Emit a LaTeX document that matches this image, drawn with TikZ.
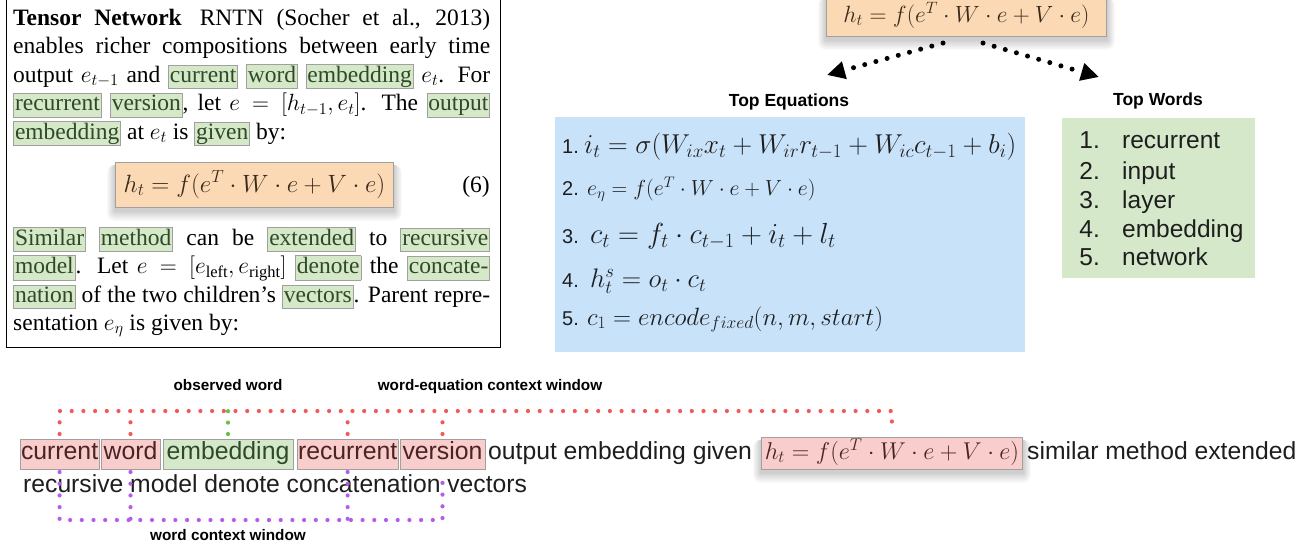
\RequirePackage{fix-cm}
\documentclass[tikz,border=0pt]{standalone}
\usepackage{amsmath}
\usepackage[no-math]{fontspec}
\setmainfont{Liberation Serif}
\newfontfamily\hel{Liberation Sans}
\usetikzlibrary{arrows.meta}
\definecolor{hlgreen}{HTML}{D5E8C8}
\definecolor{hlborder}{HTML}{A0A0A0}
\definecolor{hltxt}{HTML}{2E4A2A}
\definecolor{eqorange}{HTML}{FBD9B4}
\definecolor{orangetxt}{HTML}{3A2A1A}
\definecolor{eqpink}{HTML}{F8CDCC}
\definecolor{pinktxt}{HTML}{4A2424}
\definecolor{eqblue}{HTML}{C8E2FA}
\definecolor{wordgreen}{HTML}{D5E8CA}
\definecolor{dotred}{HTML}{F05A5A}
\definecolor{dotpurple}{HTML}{B35EE6}
\definecolor{dotgreen}{HTML}{6CBF45}
\definecolor{darktxt}{HTML}{1E1E1E}
\newcommand\hlg[1]{{\setlength\fboxsep{1pt}\setlength\fboxrule{0.8pt}\fcolorbox{hlborder}{hlgreen}{\textcolor{hltxt}{\rule[-5pt]{0pt}{20.5pt}#1}}}}
\pgfdeclarelayer{bg}
\pgfsetlayers{bg,main}
\begin{document}
\begin{tikzpicture}[x=1pt,y=-1pt,
  txt/.style={inner sep=0pt, anchor=base west, font=\fontsize{23.5}{28.5}\selectfont},
  eqnode/.style={draw=hlborder, line width=0.9pt, inner ysep=0pt, anchor=base west},
  wbox/.style={draw=hlborder, line width=0.9pt, inner xsep=1pt, inner ysep=0pt, text height=20pt, text depth=10pt, anchor=base west, outer sep=0pt, font=\hel\fontsize{24.8}{29}\selectfont},
  pinkw/.style={wbox, fill=eqpink, text=pinktxt},
  greenw/.style={wbox, fill=wordgreen, text=hltxt},
  plainw/.style={inner sep=0pt, anchor=base west, text=darktxt, font=\hel\fontsize{24.7}{29}\selectfont},
  lbl/.style={inner sep=0pt, anchor=base, font=\hel\bfseries\fontsize{15.3}{18}\selectfont},
  head/.style={inner sep=0pt, anchor=base, font=\hel\bfseries\fontsize{17.5}{20}\selectfont},
  num/.style={inner sep=0pt, anchor=base west, text=darktxt, font=\hel\fontsize{20}{24}\selectfont},
  eqline/.style={inner sep=0pt, anchor=base west, text=darktxt},
  wnum/.style={inner sep=0pt, anchor=base east, text=darktxt, font=\hel\fontsize{24.5}{29}\selectfont},
  wword/.style={inner sep=0pt, anchor=base west, text=darktxt, font=\hel\fontsize{24.5}{29}\selectfont},
  reddots/.style={dotred, line width=4.2pt, line cap=round, dash pattern=on 0pt off 11.7pt},
  purpledots/.style={dotpurple, line width=4.2pt, line cap=round, dash pattern=on 0pt off 11.7pt},
  greendots/.style={dotgreen, line width=4.2pt, line cap=round, dash pattern=on 0pt off 11.4pt},
  blackdots/.style={black, line width=5pt, line cap=round, dash pattern=on 0pt off 11.6pt, -{Triangle[length=18pt,width=17pt]}}]
\useasboundingbox (0,0) rectangle (1312,550);

% ---------- left paper box ----------
\node[draw=black, line width=1.4pt, inner sep=0pt, minimum width=494pt, minimum height=352pt, anchor=north west] (paper) at (6,-5) {};
\node[txt] (l1) at (13,25) {\makebox[477pt][s]{\textbf{Tensor Network}\hspace{18pt}RNTN (Socher et al., 2013)}};
\node[txt] (l2) at (13,53.5) {\makebox[477pt][s]{enables richer compositions between early time}};
\node[txt] (l3) at (13,82) {\makebox[477pt][s]{output $e_{t-1}$ and \hlg{current} \hlg{word} \hlg{embedding} $e_t$. For}};
\node[txt] (l4) at (13,110.5) {\makebox[477pt][s]{\hlg{recurrent} \hlg{version}, let $e = [h_{t-1}, e_t]$. The \hlg{output}}};
\node[txt] (l5) at (13,139) {\hlg{embedding} at $e_t$ is \hlg{given} by:};
\node[eqnode, fill=eqorange, text=orangetxt, minimum width=278pt, text height=30pt, text depth=15pt, font=\fontsize{25}{30}\selectfont] (leq) at (115,192) {$h_t = f(e^T \cdot W \cdot e + V \cdot e)$\hspace{8pt}};
\node[txt, anchor=base east] (eqno) at (490,192) {(6)};
\node[txt] (l6) at (13,245) {\makebox[477pt][s]{\hlg{Similar} \hlg{method} can be \hlg{extended} to \hlg{recursive}}};
\node[txt] (l7) at (13,273.5) {\makebox[477pt][s]{\hlg{model}. Let $e = [e_{\text{left}}, e_{\text{right}}]$ \hlg{denote} the \hlg{concate-}}};
\node[txt] (l8) at (13,302) {\makebox[477pt][s]{\hlg{nation} of the two children's \hlg{vectors}. Parent repre-}};
\node[txt] (l9) at (13,330) {sentation $e_\eta$ is given by:};

% ---------- top equation and arrows ----------
\node[eqnode, fill=eqorange, text=orangetxt, inner xsep=17pt, text height=27pt, text depth=14pt, font=\fontsize{23.5}{28}\selectfont] (topeq) at (826,22) {$h_t = f(e^T \cdot W \cdot e + V \cdot e)$};
\coordinate (a1s) at (943,43);
\coordinate (a1e) at (827,75);
\coordinate (a2s) at (983,43);
\coordinate (a2e) at (1099,77);
\draw[blackdots] (a1s) -- (a1e);
\draw[blackdots] (a2s) -- (a2e);

% ---------- top equations ----------
\node[head] (theq) at (789,106) {Top Equations};
\node[fill=eqblue, inner sep=0pt, minimum width=470pt, minimum height=235pt, anchor=north west] (eqs) at (555,117) {};
\node[num] (n1) at (562,153) {1.};
\node[eqline, font=\fontsize{27.3}{31}\selectfont] (e1) at (584,153) {$i_t = \sigma(W_{ix}x_t + W_{ir}r_{t-1} + W_{ic}c_{t-1} + b_i)$};
\node[num] (n2) at (562,195) {2.};
\node[eqline, font=\fontsize{21.8}{26}\selectfont] (e2) at (587,195) {$e_\eta = f(e^T \cdot W \cdot e + V \cdot e)$};
\node[num] (n3) at (562,243) {3.};
\node[eqline, font=\fontsize{29}{32}\selectfont] (e3) at (590,243) {$c_t = f_t \cdot c_{t-1} + i_t + l_t$};
\node[num] (n4) at (562,287) {4.};
\node[eqline, font=\fontsize{26.8}{30}\selectfont] (e4) at (590,287) {$h_t^s = o_t \cdot c_t$};
\node[num] (n5) at (562,325) {5.};
\node[eqline, font=\fontsize{25}{29}\selectfont] (e5) at (587,325) {$c_1 = encode_{fixed}(n, m, start)$};

% ---------- top words ----------
\node[head] (thw) at (1158,105) {Top Words};
\node[fill=wordgreen, inner sep=0pt, minimum width=193pt, minimum height=160pt, anchor=north west] (words) at (1062,118) {};
\node[wnum] (w1n) at (1100,148) {1.};
\node[wword] (w1) at (1122,148) {recurrent};
\node[wnum] (w2n) at (1100,179) {2.};
\node[wword] (w2) at (1122,179) {input};
\node[wnum] (w3n) at (1100,208) {3.};
\node[wword] (w3) at (1122,208) {layer};
\node[wnum] (w4n) at (1100,237) {4.};
\node[wword] (w4) at (1122,237) {embedding};
\node[wnum] (w5n) at (1100,265) {5.};
\node[wword] (w5) at (1122,265) {network};

% ---------- bottom sequence ----------
\node[lbl] (obs) at (228,390) {observed word};
\node[lbl] (weq) at (490,390) {word-equation context window};
\node[lbl] (wcw) at (228,540) {word context window};
\node[pinkw, minimum width=79pt] (cur) at (20,459) {current};
\node[pinkw, minimum width=59pt] (wrd) at (101,459) {word};
\node[greenw, minimum width=130pt] (emb) at (163,459) {embedding};
\node[pinkw, minimum width=100pt] (rec) at (297,459) {recurrent};
\node[pinkw, minimum width=85pt] (ver) at (400,459) {version};
\node[plainw] (oeg) at (488,459) {output embedding given};
\node[eqnode, fill=eqpink, text=pinktxt, minimum width=259pt, text height=22pt, text depth=10pt, font=\fontsize{24.3}{29}\selectfont] (heq) at (761,459) {$h_t = f(e^T \cdot W \cdot e + V \cdot e)$};
\node[plainw] (sme) at (1027,459) {similar method extended};
\node[plainw] (line2) at (23,492) {recursive model denote concatenation vectors};

\coordinate (rl) at (0,411);
\coordinate (pl) at (0,520);
\draw[reddots] ([yshift=5pt]cur.north) -- (cur.north |- rl) -- (heq.north |- rl) -- ([yshift=5pt]heq.north);
\draw[reddots] ([yshift=5pt]wrd.north) -- (wrd.north |- rl);
\draw[reddots] ([yshift=5pt]rec.north) -- (rec.north |- rl);
\draw[reddots] ([yshift=5pt]ver.north) -- (ver.north |- rl);
\draw[greendots] ([yshift=5pt]emb.north) -- ([yshift=39pt]emb.north);
\draw[purpledots] ([yshift=-3pt]cur.south) -- (cur.south |- pl) -- (ver.south |- pl) -- ([yshift=-3pt]ver.south);
\draw[purpledots] ([yshift=-3pt]wrd.south) -- (wrd.south |- pl);
\draw[purpledots] ([yshift=-3pt]rec.south) -- (rec.south |- pl);

% ---------- soft shadows ----------
\begin{pgfonlayer}{bg}
\fill[white] (0,0) rectangle (1312,550);
\foreach \n in {topeq,leq,heq}{
  \foreach \k in {1,...,8}{
    \fill[black, opacity=0.022, rounded corners=\k pt] ([xshift=-\k pt, yshift=-3pt]\n.north west) rectangle ([xshift=\k pt, yshift={-3pt-1.3*\k pt}]\n.south east);
  }
}
\end{pgfonlayer}
\end{tikzpicture}
\end{document}
